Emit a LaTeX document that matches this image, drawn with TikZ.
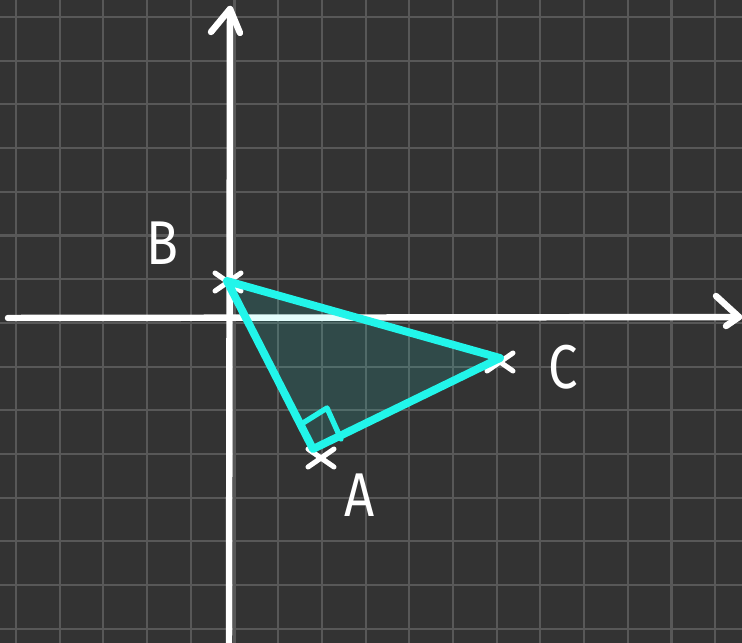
\documentclass[tikz,border=0pt]{standalone}
\usepackage{fontspec}
\setsansfont{Fira Sans}
\usepackage{tikz}
\definecolor{boardbg}{HTML}{333333}
\definecolor{gridgrey}{HTML}{585858}
\definecolor{chalkwhite}{HTML}{FFFFFF}
\definecolor{tricyan}{HTML}{22F5EA}

\begin{document}
\begin{tikzpicture}[
  x=0.025cm, y=-0.025cm,
  gridline/.style={draw=gridgrey, line width=1.5pt},
  axis/.style={draw=chalkwhite, line width=4.6pt, line cap=round, line join=round},
  tri/.style={draw=tricyan, line width=5.6pt, line join=round},
  trifill/.style={fill=tricyan, fill opacity=0.12},
  ramark/.style={draw=tricyan, line width=3.8pt, line cap=round, line join=round},
  vxline/.style={draw=chalkwhite, line width=3.6pt, line cap=round},
  lbl/.style={font=\sffamily\fontsize{44}{44}\selectfont, text=chalkwhite, inner sep=0pt, xscale=0.85},
  vxcross/.pic={\draw[vxline] (-13,-9) -- (13,9) (-13,9) -- (13,-9);}
]
% board
\fill[boardbg] (0,0) rectangle (742,643);
\useasboundingbox (0,0) rectangle (742,643);
\foreach \gx in {0,...,16}
  \draw[gridline] ({16+43.7*\gx},0) -- ++(0,643);
\foreach \gy in {0,...,14}
  \draw[gridline] (0,{17+43.7*\gy}) -- ++(742,0);

% axes
\coordinate (xstart) at (8,318);
\coordinate (xtip) at (739,317);
\coordinate (ybot) at (229,643);
\coordinate (ytip) at (230,9);
\draw[axis] (xstart) -- (xtip);
\draw[axis] (xtip) ++(-23,-21) -- (xtip) -- ++(-13,9);
\draw[axis] (ybot) -- (ytip);
\draw[axis] (ytip) ++(-19,23) -- (ytip) -- ++(10,24);

% triangle
\coordinate (B) at (227,281);
\coordinate (C) at (500,358);
\coordinate (A) at (313,449);
\fill[trifill] (B) -- (C) -- (A) -- cycle;
\pic at (228,282) {vxcross};
\pic at (500,362) {vxcross};
\pic at (321,458) {vxcross};
\draw[tri] (B) -- (C) -- (A) -- cycle;
\draw[ramark] (303,423) -- (327,408) -- (341,439);

\node[lbl] (labB) at (162,243) {B};
\node[lbl] (labC) at (563,367) {C};
\node[lbl] (labA) at (360,495) {A};
\end{tikzpicture}
\end{document}
